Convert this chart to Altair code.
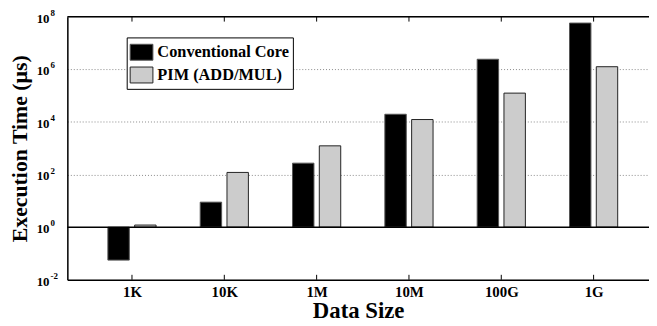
import altair as alt
import pandas as pd

# ---------------- data ----------------
categories = ["1K", "10K", "1M", "10M", "100G", "1G"]
series = ["Conventional Core", "PIM (ADD/MUL)"]
conventional = [0.056, 8.9, 270, 19500, 2.4e6, 5.7e7]
pim = [1.2, 120, 1230, 12300, 1.24e5, 1.25e6]
y_tick_exponents = [-2, 0, 2, 4, 6, 8]
grid_exponents = [2, 4, 6]

# ---------------- layout/style ----------------
W, H = 588, 266
FONT = "Liberation Serif"
OFF, HALF = 0.145, 0.116

rows = []
for i, c in enumerate(categories):
    rows.append(dict(cat=c, pos=i + 1, series=series[0], value=conventional[i], side=-1))
    rows.append(dict(cat=c, pos=i + 1, series=series[1], value=pim[i], side=1))
df = pd.DataFrame(rows)
ticks_df = pd.DataFrame({"pos": list(range(1, len(categories) + 1))})
ylab_df = pd.DataFrame({"e": y_tick_exponents})

xscale = alt.Scale(domain=[0.3, 6.6], nice=False, zero=False)
yscale = alt.Scale(type="log", domain=[1e-2, 1e8], nice=False)

label_expr = "[" + ",".join("'%s'" % c for c in categories) + "][datum.value-1]"

xaxis = alt.Axis(
    values=list(range(1, len(categories) + 1)), labelExpr=label_expr,
    grid=False, ticks=False, domainColor="black", domainWidth=1.5,
    labelFont=FONT, labelFontSize=15, labelFontWeight="bold", labelColor="black",
    labelPadding=5, title="Data Size", titleFont=FONT, titleFontSize=23,
    titleFontWeight="bold", titleColor="black", titlePadding=0,
)
yaxis = alt.Axis(
    values=[10.0 ** e for e in grid_exponents], labels=False, ticks=False,
    grid=True, gridDash=[1, 2], gridColor="#8a8a8a", gridWidth=1,
    domainColor="black", domainWidth=1.5,
    title="Execution Time (µs)", titleFont=FONT, titleFontSize=22,
    titleFontWeight="bold", titleColor="black", titlePadding=36,
)

bars = alt.Chart(df).transform_calculate(
    xa="datum.pos + datum.side*%f - %f" % (OFF, HALF),
    xb="datum.pos + datum.side*%f + %f" % (OFF, HALF),
).mark_bar(strokeWidth=1).encode(
    x=alt.X("xa:Q", scale=xscale, axis=xaxis),
    x2="xb:Q",
    y=alt.Y("value:Q", scale=yscale, axis=yaxis),
    y2=alt.datum(1),
    color=alt.Color(
        "series:N",
        scale=alt.Scale(domain=series, range=["#000000", "#cccccc"]),
        legend=alt.Legend(
            title=None, orient="none", legendX=60, legendY=21,
            fillColor="white", strokeColor="black", padding=3,
            labelFont=FONT, labelFontSize=16.5, labelFontWeight="bold",
            labelColor="black", labelOffset=4,
            symbolType="M-1,-0.7H1V0.7H-1Z", symbolSize=529,
            symbolStrokeColor="#333333", symbolStrokeWidth=1,
            rowPadding=-2,
        ),
    ),
    stroke=alt.Stroke(
        "series:N",
        scale=alt.Scale(domain=series, range=["#555555", "#222222"]),
        legend=None,
    ),
)

baseline = alt.Chart(ylab_df).transform_filter("datum.e == 0").mark_rule(
    color="black", strokeWidth=1.5
).encode(y=alt.datum(1), x=alt.value(0), x2=alt.value(W))

top_border = alt.Chart(ticks_df).transform_filter("datum.pos == 1").mark_rule(
    color="black", strokeWidth=1.5
).encode(x=alt.value(0), x2=alt.value(W), y=alt.value(0))

bottom_ticks = alt.Chart(ticks_df).mark_rule(color="black", strokeWidth=1).encode(
    x="pos:Q", y=alt.value(H - 5), y2=alt.value(H)
)
top_ticks = alt.Chart(ticks_df).mark_rule(color="black", strokeWidth=1).encode(
    x="pos:Q", y=alt.value(0), y2=alt.value(5)
)

ten = alt.Chart(ylab_df).transform_calculate(v="pow(10, datum.e)").mark_text(
    align="right", baseline="middle", dy=2, font=FONT, fontSize=13,
    fontWeight="bold", color="black"
).encode(y="v:Q", x=alt.value(-18), text=alt.value("10"))

expo = alt.Chart(ylab_df).transform_calculate(v="pow(10, datum.e)").mark_text(
    align="left", baseline="middle", dy=-4, font=FONT, fontSize=9,
    fontWeight="bold", color="black"
).encode(y="v:Q", x=alt.value(-17), text="e:N")

chart = alt.layer(
    bars, baseline, top_border, bottom_ticks, top_ticks, ten, expo
).properties(
    width=W, height=H,
    autosize=alt.AutoSizeParams(type="none"),
    padding={"left": 60, "top": 7, "right": 0, "bottom": 45},
).configure_view(stroke=None).configure(background="white")

chart.save("out.html", embed_options={"renderer": "svg", "actions": False})
